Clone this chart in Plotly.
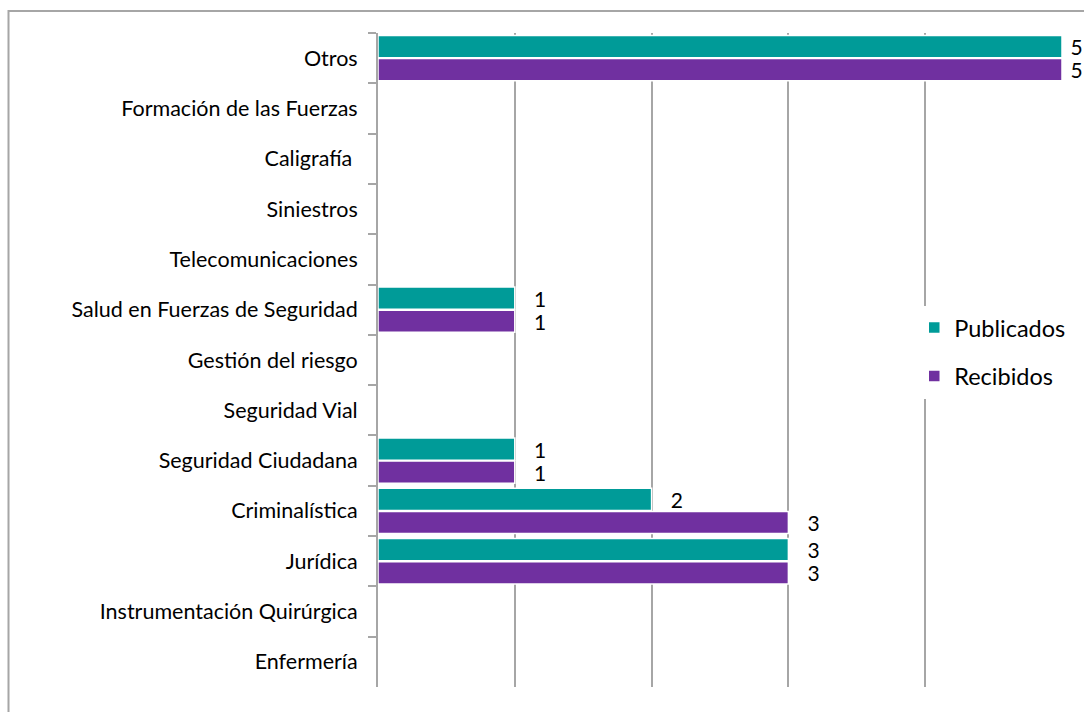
import plotly.graph_objects as go

categories = ["Otros", "Formación de las Fuerzas", "Caligrafía ", "Siniestros",
              "Telecomunicaciones", "Salud en Fuerzas de Seguridad", "Gestión del riesgo",
              "Seguridad Vial", "Seguridad Ciudadana", "Criminalística", "Jurídica",
              "Instrumentación Quirúrgica", "Enfermería"]
publicados = [5, 0, 0, 0, 0, 1, 0, 0, 1, 2, 3, 0, 0]
recibidos = [5, 0, 0, 0, 0, 1, 0, 0, 1, 3, 3, 0, 0]
x_ticks = [0, 1, 2, 3, 4, 5]
x_max = 5

FONT = "Lato"

def labels(vals):
    out = []
    for v in vals:
        if not v:
            out.append("")
        elif v < x_max:
            out.append("\u00a0\u00a0\u00a0" + str(v))
        else:
            out.append("\u00a0" + str(v))
    return out

fig = go.Figure()
fig.add_trace(go.Bar(y=categories, x=publicados, name="Publicados", orientation="h",
                     legendgroup="p",
                     marker=dict(color="#009B98", line=dict(color="white", width=1.5)),
                     text=labels(publicados), textposition="outside", cliponaxis=False,
                     constraintext="none",
                     textfont=dict(size=21, color="black", family=FONT)))
fig.add_trace(go.Bar(y=categories, x=recibidos, name="Recibidos", orientation="h",
                     legendgroup="r",
                     marker=dict(color="#7030A0", line=dict(color="white", width=1.5)),
                     text=labels(recibidos), textposition="outside", cliponaxis=False,
                     constraintext="none",
                     textfont=dict(size=21, color="black", family=FONT)))

fig.update_layout(
    width=1084, height=712,
    margin=dict(l=378, r=22, t=33, b=25),
    paper_bgcolor="white", plot_bgcolor="white",
    barmode="group", bargap=0.08, bargroupgap=0.04,
    font=dict(family=FONT, size=21.5, color="black"),
    showlegend=True,
    legend=dict(x=0.784, y=0.512, xanchor="left", yanchor="middle", traceorder="grouped",
                font=dict(size=23.5, color="black", family=FONT), bgcolor="rgba(255,255,255,1)",
                tracegroupgap=15),
    xaxis=dict(range=[0, x_max], tickvals=x_ticks, showticklabels=False, showgrid=True,
               gridcolor="#A6A6A6", gridwidth=1.5, zeroline=False, showline=False, ticks=""),
    yaxis=dict(autorange="reversed", showline=True, linecolor="#A6A6A6", linewidth=2,
               ticks="outside", tickson="boundaries", ticklen=8, tickcolor="#A6A6A6",
               tickwidth=2, showgrid=False, ticklabelstandoff=14),
    shapes=[dict(type="rect", xref="paper", yref="paper",
                 x0=(8.5 - 378) / 684, x1=1.2, y0=-0.2, y1=(687 - 11) / 654,
                 line=dict(color="#A6A6A6", width=2), fillcolor="rgba(0,0,0,0)", layer="below")],
)
fig.write_html("out.html", config={"displayModeBar": False},
               post_script="document.body.style.margin='0';document.body.style.overflow='hidden';")
